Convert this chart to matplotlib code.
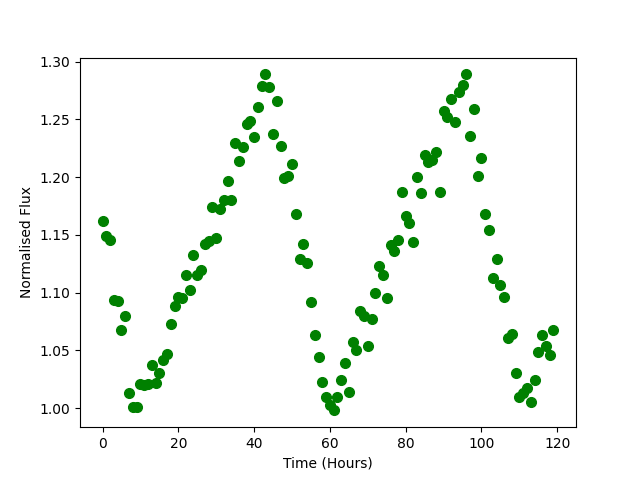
import matplotlib
matplotlib.use("Agg")
import matplotlib.pyplot as plt
import numpy as np

time_hours = list(range(120))
flux = [1.162, 1.149, 1.146, 1.094, 1.093, 1.068, 1.080, 1.013, 1.001, 1.001,
        1.021, 1.020, 1.021, 1.037, 1.022, 1.030, 1.042, 1.047, 1.073, 1.088,
        1.096, 1.095, 1.115, 1.102, 1.133, 1.115, 1.120, 1.142, 1.145, 1.174,
        1.147, 1.172, 1.180, 1.197, 1.180, 1.230, 1.214, 1.226, 1.246, 1.249,
        1.235, 1.261, 1.279, 1.289, 1.278, 1.237, 1.266, 1.227, 1.199, 1.201,
        1.211, 1.168, 1.129, 1.142, 1.126, 1.092, 1.063, 1.044, 1.023, 1.010,
        1.003, 0.998, 1.010, 1.024, 1.039, 1.014, 1.057, 1.050, 1.084, 1.080,
        1.054, 1.077, 1.100, 1.123, 1.115, 1.095, 1.141, 1.136, 1.146, 1.187,
        1.166, 1.160, 1.144, 1.200, 1.186, 1.219, 1.213, 1.215, 1.222, 1.187,
        1.257, 1.252, 1.268, 1.248, 1.274, 1.280, 1.289, 1.236, 1.259, 1.201,
        1.217, 1.168, 1.154, 1.113, 1.129, 1.107, 1.096, 1.061, 1.064, 1.030,
        1.010, 1.013, 1.017, 1.005, 1.024, 1.049, 1.063, 1.054, 1.046, 1.068]

fig, ax = plt.subplots(figsize=(6.4, 4.8), dpi=100)
ax.plot(time_hours, flux, 'o', color='green', markersize=7)
ax.set_xlabel("Time (Hours)")
ax.set_ylabel("Normalised Flux")
fig.savefig("out.png", dpi=100)
